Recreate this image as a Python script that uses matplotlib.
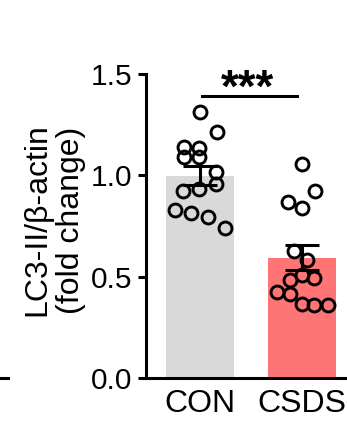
import numpy as np
import matplotlib
matplotlib.use("Agg")
from matplotlib import pyplot as plt
from matplotlib.lines import Line2D

plt.rcParams['font.family'] = ['Liberation Sans', 'DejaVu Sans']

groups = ["CON", "CSDS"]
bar_colors = ["#d9d9d9", "#ff7474"]

# LC3-II / beta-actin per animal
con = [1.311, 1.215, 1.138, 1.133, 1.092, 1.089, 1.018,
       0.957, 0.931, 0.924, 0.829, 0.812, 0.793, 0.739]
csds = [1.056, 0.924, 0.870, 0.837, 0.628, 0.582, 0.508,
        0.492, 0.484, 0.426, 0.414, 0.366, 0.362, 0.360]

# horizontal spread of the dots inside each bar
con_dx = [0, 0.163, -0.16, -0.007, -0.16, -0.007, 0.157,
          0.157, -0.007, -0.163, -0.245, -0.09, 0.08, 0.245]
csds_dx = [0, 0.127, -0.137, 0, -0.075, 0.05, 0,
           0.12, -0.115, -0.245, -0.12, 0, 0.12, 0.25]

stars = "***"

data = [np.array(con), np.array(csds)]
spread = [con_dx, csds_dx]
means = [d.mean() for d in data]
sems = [d.std(ddof=1) / np.sqrt(len(d)) for d in data]
x = np.arange(len(groups))

fig = plt.figure(figsize=(3.47, 4.26), dpi=100)
ax = fig.add_axes([0.4207, 0.1127, 0.5793, 0.7136])

ax.bar(x, means, width=0.66, color=bar_colors, zorder=1)
for i in range(len(groups)):
    ax.plot(x[i] + np.array(spread[i]), data[i], 'o', ms=9.3, mfc='none',
            mec='black', mew=2.1, zorder=3, clip_on=False)
    ax.errorbar(x[i], means[i], yerr=sems[i], fmt='none', ecolor='black',
                elinewidth=2.2, capsize=12, capthick=2.2, zorder=4)

# significance bracket
ax.plot([0.02, 0.95], [1.393, 1.393], color='black', lw=2.2, clip_on=False)
ax.text(0.47, 1.365, stars, ha='center', va='baseline', fontsize=33,
        fontweight='bold', clip_on=False)

ax.set_xlim(-0.53, 1.44)
ax.set_ylim(0, 1.5)
ax.set_yticks([0, 0.5, 1.0, 1.5])
ax.set_yticklabels(["0.0", "0.5", "1.0", "1.5"])
ax.set_xticks(x)
ax.set_xticklabels(groups)
ax.tick_params(axis='y', length=6, width=2.2, labelsize=21.5, pad=4)
ax.tick_params(axis='x', length=0, labelsize=23, pad=8)
ax.set_ylabel("LC3-II/β-actin\n(fold change)", fontsize=23, linespacing=1.15)
ax.yaxis.set_label_coords(-0.30, 0.52)

for side in ['top', 'right']:
    ax.spines[side].set_visible(False)
for side in ['left', 'bottom']:
    ax.spines[side].set_linewidth(2.2)

# edge of the neighbouring panel
fig.add_artist(Line2D([0, 0.022], [0.1127, 0.1127], color='black', lw=2.2))

fig.savefig("out.png", dpi=100)
